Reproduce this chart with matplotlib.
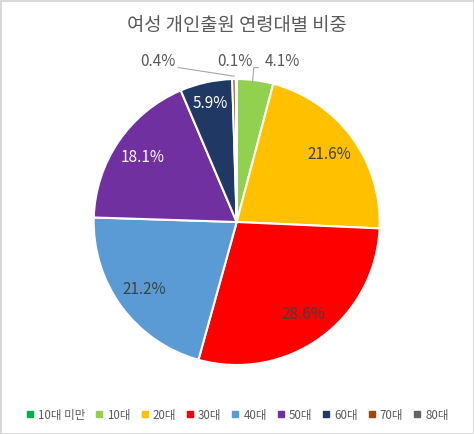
import matplotlib.pyplot as plt
import numpy as np
from matplotlib.lines import Line2D

plt.rcParams['font.family'] = ['Noto Sans CJK KR', 'DejaVu Sans']

# 데이터
labels = ['10대 미만', '10대', '20대', '30대', '40대', '50대', '60대', '70대', '80대']
values = [0.02, 4.1, 21.6, 28.6, 21.2, 18.1, 5.9, 0.4, 0.1]
shown = ['', '4.1%', '21.6%', '28.6%', '21.2%', '18.1%', '5.9%', '0.4%', '0.1%']
colors = ['#00B050', '#92D050', '#FFC000', '#FF0000', '#5B9BD5',
          '#7030A0', '#203864', '#9E480E', '#636363']
txt_colors = ['#595959', '#595959', '#404040', '#404040', '#404040',
              'white', 'white', '#595959', '#595959']

W, H = 474, 434
fig = plt.figure(figsize=(W / 100, H / 100), dpi=100)
fig.patch.set_edgecolor('#D9D9D9')
fig.patch.set_linewidth(2)

cx, cy, r = 236.7, 222, 143
ax = fig.add_axes([(cx - r) / W, (H - cy - r) / H, 2 * r / W, 2 * r / H])
wedges, _ = ax.pie(values, colors=colors, startangle=90, counterclock=False,
                   wedgeprops=dict(edgecolor='white', linewidth=1.5))
ax.set_xlim(-1, 1)
ax.set_ylim(-1, 1)
ax.set_aspect('auto')
ax.axis('off')

# 바깥쪽 라벨 위치 (작은 조각)
ly = 1.12
outside = {1: 0.32, 8: -0.015, 7: -0.55}

# 안쪽 라벨
for i, w in enumerate(wedges):
    if shown[i] == '' or i in outside:
        continue
    ang = np.radians((w.theta1 + w.theta2) / 2)
    d = 0.85 if values[i] < 10 else 0.8
    ax.text(d * np.cos(ang), d * np.sin(ang), shown[i], ha='center', va='center',
            fontsize=11, color=txt_colors[i])

for i, lx in outside.items():
    w = wedges[i]
    ang = np.radians((w.theta1 + w.theta2) / 2)
    px, py = np.cos(ang), np.sin(ang)
    ax.text(lx, ly, shown[i], ha='center', va='center', fontsize=11,
            color=txt_colors[i], clip_on=False)
    if i == 1:
        ax.plot([lx - 0.17, lx - 0.2, px - 0.02], [ly - 0.04, ly - 0.04, py - 0.02],
                color='#A6A6A6', lw=0.8, clip_on=False)
    elif i == 7:
        ax.plot([lx + 0.14, px], [ly - 0.04, py + 0.02],
                color='#A6A6A6', lw=0.8, clip_on=False)

fig.text(237 / W, 1 - 25 / H, '여성 개인출원 연령대별 비중', ha='center', va='center',
         fontsize=13.5, color='#595959')

handles = [Line2D([], [], marker='s', linestyle='', markersize=4.5,
                  markerfacecolor=c, markeredgecolor=c) for c in colors]
leg = fig.legend(handles, labels, loc='center', bbox_to_anchor=(0.5, 1 - 415 / H),
                 ncol=9, frameon=False, fontsize=8.3, handlelength=0.8,
                 handletextpad=0.3, columnspacing=0.8, labelcolor='#595959')

fig.savefig('out.png', dpi=100)
